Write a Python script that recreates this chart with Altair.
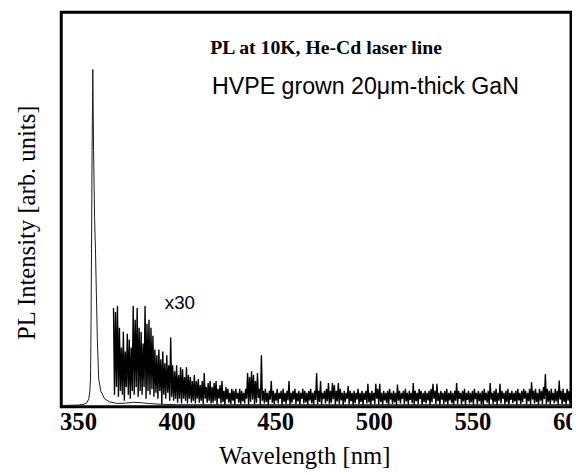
import altair as alt
import pandas as pd

# Main PL spectrum (thin line)
main_wl = [341.5, 350, 353, 354.5, 355.5, 356.0, 356.35, 356.6, 356.85, 357.15, 357.5,
           357.9, 358.4, 358.85, 359.3, 359.8, 360.5, 361.5, 363.5, 366, 370, 374,
           378, 382, 386, 392, 400, 450, 500, 550, 600]
main_int = [0.3, 0.4, 0.6, 1.0, 2.0, 4.0, 7.0, 20, 40, 65, 85.5,
            65, 48, 40, 29, 17, 7, 4, 2, 1.2, 0.8, 0.9,
            1.1, 1.0, 0.8, 0.6, 0.5, 0.5, 0.5, 0.5, 0.5]

# x30 magnified spectrum: per-nm upper and lower excursions of the noise (368..600 nm)
noise_wl = list(range(368, 601))
noise_top = [
    25, 24, 25.5, 20, 15, 19, 14, 18.5, 17, 15,
    25.5, 22, 25, 20, 19, 16, 25.5, 21, 22, 20,
    18, 14.5, 13, 14.5, 12, 14, 11, 13, 10.5, 17.5,
    10.5, 9, 10.5, 8, 10, 9.5, 7.5, 10, 8, 7.5,
    6.5, 8, 6.5, 7, 5.5, 6.5, 8.5, 5, 6, 6.5,
    5, 6, 6.5, 4.5, 5.5, 6.5, 4, 5, 4.5, 3.5,
    4.5, 4, 4.5, 3.5, 4.5, 4, 3.5, 4.5, 8.5, 7.5,
    9, 8, 6.5, 8.5, 4.5, 13, 4, 4.5, 3.5, 4,
    6.5, 4, 3.5, 4.5, 3.5, 4, 4.5, 3.5, 4, 6.5,
    3.5, 4, 4.5, 3.5, 4, 3.5, 4.5, 4, 3.5, 4,
    4.5, 3.5, 4, 8.5, 4, 6.5, 3.5, 4, 4.5, 6,
    4, 6, 5.5, 4, 6, 4.5, 3.5, 4, 3.5, 5.2,
    4, 3.5, 4, 3.5, 4.5, 3.5, 4, 3.5, 4, 5.8,
    3.5, 4, 3.5, 5.8, 4.5, 5.8, 3.5, 4, 3.5, 4,
    4.5, 3.5, 4, 3.5, 5.6, 4, 3.5, 4, 4.5, 3.5,
    4, 3.5, 6, 4, 3.5, 4.5, 4, 3.5, 4, 3.5,
    4, 4.5, 5.8, 4, 5.8, 3.5, 4, 3.5, 4, 4.5,
    3.5, 4, 3.5, 4, 6, 4, 3.5, 4, 4.5, 3.5,
    4, 3.5, 4, 4.5, 3.5, 4, 3.5, 4, 4.5, 3.5,
    4, 6, 3.5, 4, 4.5, 3.5, 5.8, 4, 3.5, 4,
    4.5, 3.5, 4, 3.5, 4, 4.5, 3.5, 4, 4.5, 4,
    3.5, 4.5, 6.2, 4, 4.5, 3.5, 4.5, 4, 5, 8.3,
    4.5, 4, 4.5, 3.5, 4.5, 4, 6.6, 4, 4.5, 3.5,
    4.5, 4, 4.5,
]
noise_bot = [
    3, 5, 2.5, 4, 3, 1.5, 5, 3, 2, 4,
    3, 5, 2.5, 4, 3, 5, 2, 4, 3, 4.5,
    2.5, 3.5, 2, 4, 0.6, 3, 2, 3.5, 1.5, 2.5,
    1.5, 2, 1, 2, 0.8, 2, 1.5, 0.8, 2, 1,
    1.5, 0.8, 2, 1, 1.5, 0.6, 2, 1, 1.5, 0.8,
    1, 1.5, 0.6, 2, 0.8, 1.2, 0.5, 1.8, 1, 0.7,
    1.5, 0.5, 2, 1, 0.6, 1.4, 0.8, 2, 0.5, 1.2,
    1.8, 0.7, 1, 2.2, 0.5, 1.5, 0.8, 1.2, 0.5, 1.8,
    1, 0.6, 1.5, 0.8, 2, 0.5, 1.2, 0.7, 1.6, 0.5,
    1, 1.8, 0.6, 1.3, 0.5, 2, 0.8, 1.1, 0.5, 1.6,
    0.9, 0.5, 1.7, 0.7, 1.2, 0.5, 2, 0.8, 1.4, 0.6,
    1, 1.9, 0.5, 1.3, 0.7, 1.6, 0.5, 1.1, 2, 0.6,
    1.4, 0.5, 0.9, 1.8, 0.6, 1.2, 0.5, 1.7, 0.8, 1.1,
    0.5, 1.5, 0.7, 2, 0.6, 1.2, 0.5, 1.6, 0.9, 0.5,
    1.8, 0.7, 1.1, 0.5, 1.5, 0.8, 2, 0.6, 1.3, 0.5,
    1.7, 0.9, 0.5, 1.4, 0.7, 1.9, 0.5, 1.2, 0.8, 1.6,
    0.5, 1.1, 2, 0.6, 1.4, 0.5, 1.8, 0.7, 1.2, 0.5,
    1.6, 0.9, 0.5, 1.5, 0.7, 2, 0.6, 1.3, 0.5, 1.7,
    0.8, 1.1, 0.5, 1.9, 0.6, 1.4, 0.7, 0.5, 1.6, 1,
    0.5, 1.8, 0.7, 1.2, 0.5, 1.5, 0.8, 2, 0.6, 1.1,
    0.5, 1.7, 0.9, 1.3, 0.5, 1.6, 0.7, 1.1, 2, 0.6,
    1.4, 0.5, 1.8, 0.8, 1.2, 0.5, 1.5, 0.7, 1.9, 0.6,
    1.1, 0.5, 1.6, 0.9, 1.3, 0.5, 1.8, 0.7, 1.2, 0.5,
    1.5, 0.8, 1.1,
]

tick_values = [350, 400, 450, 500, 550, 600]

# Annotations (data coordinates)
ann1 = pd.DataFrame({"wl": [417], "I": [89.3], "t": ["PL at 10K, He-Cd laser line"]})
ann2 = pd.DataFrame({"wl": [418], "I": [79.3], "t": ["HVPE grown 20\u03bcm-thick GaN"]})
ann3 = pd.DataFrame({"wl": [394], "I": [24.8], "t": ["x30"]})

df_main = pd.DataFrame({"wl": main_wl, "I": main_int})

# zig-zag table: the upper value at each nm, the lower value half a nm later
zz_wl, zz_i = [], []
for w, t, b in zip(noise_wl, noise_top, noise_bot):
    zz_wl += [w, w + 0.5]
    zz_i += [t, b]
df_noise = pd.DataFrame({"wl": zz_wl, "I": zz_i})

xs = alt.Scale(domain=[341.5, 600], nice=False, zero=False)
ys = alt.Scale(domain=[0, 100], nice=False, zero=True)

x_enc = alt.X("wl:Q", scale=xs, axis=alt.Axis(
    values=tick_values, title="Wavelength [nm]", ticks=False, domain=False, grid=False,
    labelFont="Liberation Serif", labelFontSize=25, labelFontWeight="bold", labelColor="black",
    labelBaseline="alphabetic", labelPadding=23, labelFlush=False,
    titleFont="Liberation Serif", titleFontSize=25, titleFontWeight="normal", titleColor="black",
    titleX=246.5, titleY=58, titleBaseline="alphabetic"))
y_enc = alt.Y("I:Q", scale=ys, axis=alt.Axis(
    labels=False, ticks=False, domain=False, grid=False,
    title="PL Intensity [arb. units]",
    titleFont="Liberation Serif", titleFontSize=25, titleFontWeight="normal", titleColor="black",
    titleX=-27, titleY=213, titleBaseline="alphabetic", titleAngle=270))

main_line = alt.Chart(df_main).mark_line(color="#1a1a1a", strokeWidth=1, clip=True).encode(
    x=x_enc, y=y_enc, order="wl:Q")
noise_line = alt.Chart(df_noise).mark_line(color="black", strokeWidth=1.4, clip=True).encode(
    x=alt.X("wl:Q", scale=xs), y=alt.Y("I:Q", scale=ys), order="wl:Q")

t1 = alt.Chart(ann1).mark_text(font="Liberation Serif", fontSize=20, fontWeight="bold",
                               align="left", baseline="alphabetic", color="black").encode(
    x=alt.X("wl:Q", scale=xs), y=alt.Y("I:Q", scale=ys), text="t:N")
t2 = alt.Chart(ann2).mark_text(font="Liberation Sans", fontSize=23.5,
                               align="left", baseline="alphabetic", color="black").encode(
    x=alt.X("wl:Q", scale=xs), y=alt.Y("I:Q", scale=ys), text="t:N")
t3 = alt.Chart(ann3).mark_text(font="Liberation Sans", fontSize=19,
                               align="left", baseline="alphabetic", color="black").encode(
    x=alt.X("wl:Q", scale=xs), y=alt.Y("I:Q", scale=ys), text="t:N")

chart = alt.layer(main_line, noise_line, t1, t2, t3).properties(
    width=517, height=400,
    padding={"left": 54, "top": 1, "right": 1, "bottom": 65},
    autosize=alt.AutoSizeParams(type="none"),
    background="white",
).configure_view(stroke="black", strokeWidth=3)

chart.save("out.html", embed_options={"renderer": "svg", "actions": False})
